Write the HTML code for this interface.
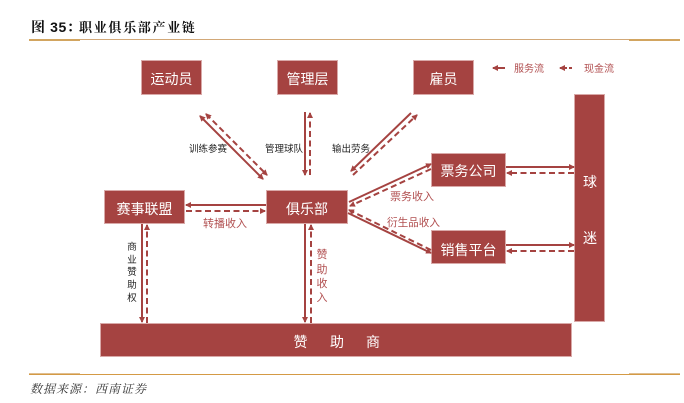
<!DOCTYPE html>
<html lang="zh">
<head>
<meta charset="utf-8">
<style>
html,body{margin:0;padding:0;background:#fff}
svg{display:block}
text{font-family:"Liberation Sans","Noto Serif CJK SC",serif}
.box{fill:#a54341;stroke:#d9a9a8;stroke-width:1}
.w{fill:#fff;text-anchor:middle;font-size:14px;font-family:"Liberation Sans","Noto Sans CJK SC",sans-serif}
.r{fill:#b14f50;font-size:11px;font-family:"Liberation Sans","Noto Sans CJK SC",sans-serif}
.k{fill:#222;font-size:9.500px;font-family:"Liberation Sans","Noto Sans CJK SC",sans-serif}
.s{stroke:#a54341;stroke-width:2;fill:none}
.d{stroke:#a54341;stroke-width:2;fill:none;stroke-dasharray:6 3.500}
</style>
</head>
<body>
<svg width="684" height="403" viewBox="0 0 684 403" xmlns="http://www.w3.org/2000/svg">
<defs>
<marker id="a" markerWidth="7" markerHeight="7" refX="5" refY="3" orient="auto-start-reverse" markerUnits="userSpaceOnUse"><path d="M0,0L6,3L0,6z" fill="#a54341"/></marker>
</defs>
<text x="31" y="32" font-size="14" font-weight="bold" fill="#111" letter-spacing="0.6">图 35：</text>
<text x="79" y="32" font-size="13" font-weight="bold" fill="#111" letter-spacing="1.700">职业俱乐部产业链</text>
<rect x="29" y="39" width="651" height="1" fill="#d2a878"/>
<rect x="29" y="39" width="51" height="2" fill="#d2a560"/>
<rect x="629" y="39" width="51" height="2" fill="#d2a560"/>

<rect class="box" x="141.500" y="60.500" width="60" height="34"/>
<rect class="box" x="277.500" y="60.500" width="60" height="34"/>
<rect class="box" x="413.500" y="60.500" width="60" height="34"/>
<rect class="box" x="574.500" y="94.500" width="30" height="227"/>
<rect class="box" x="431.500" y="153.500" width="74" height="33"/>
<rect class="box" x="431.500" y="230.500" width="74" height="33"/>
<rect class="box" x="104.500" y="190.500" width="80" height="33"/>
<rect class="box" x="266.500" y="190.500" width="81" height="33"/>
<rect class="box" x="100.500" y="323.500" width="471" height="33"/>

<text class="w" x="171.500" y="84">运动员</text>
<text class="w" x="307.500" y="84">管理层</text>
<text class="w" x="443.500" y="84">雇员</text>
<text class="w" x="468.500" y="176">票务公司</text>
<text class="w" x="468.500" y="255">销售平台</text>
<text class="w" x="144.500" y="214">赛事联盟</text>
<text class="w" x="307" y="214">俱乐部</text>
<text class="w" x="590" y="187">球</text>
<text class="w" x="590" y="243">迷</text>
<text class="w" x="300.500" y="347">赞</text>
<text class="w" x="337" y="347">助</text>
<text class="w" x="373" y="347">商</text>

<line class="s" x1="200" y1="116" x2="263" y2="179" marker-start="url(#a)" marker-end="url(#a)"/>
<line class="d" x1="206" y1="114" x2="267" y2="175" marker-start="url(#a)" marker-end="url(#a)"/>
<line class="s" x1="305" y1="112" x2="305" y2="175" marker-end="url(#a)"/>
<line class="d" x1="310" y1="175" x2="310" y2="113" marker-end="url(#a)"/>
<line class="s" x1="411" y1="113" x2="351" y2="171" marker-end="url(#a)"/>
<line class="d" x1="353" y1="175" x2="417" y2="115" marker-end="url(#a)"/>
<line class="s" x1="349" y1="202" x2="431" y2="164" marker-end="url(#a)"/>
<line class="d" x1="431" y1="169" x2="350" y2="206" marker-end="url(#a)"/>
<line class="s" x1="348" y1="213" x2="431" y2="253" marker-end="url(#a)"/>
<line class="d" x1="431" y1="250" x2="349" y2="210" marker-end="url(#a)"/>
<line class="s" x1="506" y1="167" x2="574" y2="167" marker-end="url(#a)"/>
<line class="d" x1="574" y1="173" x2="507" y2="173" marker-end="url(#a)"/>
<line class="s" x1="506" y1="245" x2="574" y2="245" marker-end="url(#a)"/>
<line class="d" x1="574" y1="251" x2="507" y2="251" marker-end="url(#a)"/>
<line class="s" x1="266" y1="205" x2="186" y2="205" marker-end="url(#a)"/>
<line class="d" x1="186" y1="211" x2="265" y2="211" marker-end="url(#a)"/>
<line class="s" x1="142" y1="224" x2="142" y2="322" marker-end="url(#a)"/>
<line class="d" x1="147" y1="323" x2="147" y2="225" marker-end="url(#a)"/>
<line class="s" x1="305" y1="224" x2="305" y2="322" marker-end="url(#a)"/>
<line class="d" x1="311" y1="323" x2="311" y2="225" marker-end="url(#a)"/>
<line class="s" x1="505" y1="68" x2="493" y2="68" stroke-width="1.500" marker-end="url(#a)"/>
<line class="s" x1="572" y1="68" x2="560" y2="68" style="stroke-dasharray:3 2" marker-end="url(#a)"/>

<text class="r" x="514" y="72" style="font-size:10px">服务流</text>
<text class="r" x="584" y="72" style="font-size:10px">现金流</text>
<text class="k" x="189" y="152">训练参赛</text>
<text class="k" x="265" y="152">管理球队</text>
<text class="k" x="332" y="152">输出劳务</text>
<text class="r" x="390" y="200">票务收入</text>
<text class="r" x="387" y="226" style="font-size:10.600px">衍生品收入</text>
<text class="r" x="203" y="227">转播收入</text>
<g text-anchor="middle">
<text class="k" x="132" y="250">商</text>
<text class="k" x="132" y="263">业</text>
<text class="k" x="132" y="275">赞</text>
<text class="k" x="132" y="288">助</text>
<text class="k" x="132" y="301">权</text>
<text class="r" x="322" y="258">赞</text>
<text class="r" x="322" y="273">助</text>
<text class="r" x="322" y="287">收</text>
<text class="r" x="322" y="301">入</text>
</g>

<rect x="29" y="374" width="651" height="1" fill="#d49a45"/>
<rect x="29" y="373" width="51" height="1" fill="#e0bf90"/>
<rect x="629" y="373" width="51" height="1" fill="#e0bf90"/>
<text x="30" y="393" font-size="12" font-style="italic" fill="#333" letter-spacing="1">数据来源：西南证券</text>
</svg>
</body>
</html>
